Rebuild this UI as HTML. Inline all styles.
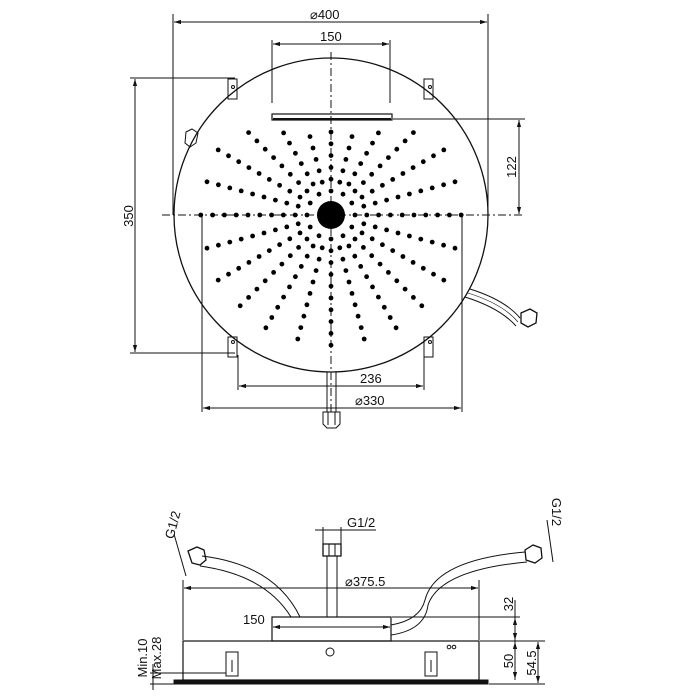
<!DOCTYPE html>
<html><head><meta charset="utf-8"><style>
html,body{margin:0;padding:0;background:#fff;width:700px;height:700px;overflow:hidden}
svg{display:block}
text{font-family:"Liberation Sans",Arial,sans-serif;font-size:13px;fill:#111}
</style></head><body>
<svg id="s" width="700" height="700" viewBox="0 0 700 700" xmlns="http://www.w3.org/2000/svg">
<defs>
<marker id="a" viewBox="0 0 10 10" refX="10" refY="5" markerWidth="7" markerHeight="7" orient="auto-start-reverse"><path d="M0,2 L10,5 L0,8z" fill="#111"/></marker>
</defs>
<g stroke="#111" fill="none" stroke-width="1">
<circle cx="331" cy="215" r="157" stroke-width="1.3"/>
<line x1="162" y1="215" x2="525" y2="215" stroke-dasharray="8,3,2,3"/>
<line x1="331" y1="52" x2="331" y2="412" stroke-dasharray="8,3,2,3"/>
<rect x="272" y="114" width="120" height="6" stroke-width="1.2"/>
<line x1="273" y1="119" x2="391" y2="119" stroke-width="2"/>
<rect x="228" y="79" width="9" height="20"/><rect x="424" y="79" width="9" height="20"/>
<rect x="228" y="337" width="9" height="20"/><rect x="424" y="337" width="9" height="20"/>
<circle cx="233" cy="87" r="1.5"/><circle cx="430" cy="87" r="1.5"/>
<circle cx="233" cy="342" r="1.5"/><circle cx="430" cy="342" r="1.5"/>
<path d="M186,132 l6,-3 l6,4 l-2,10 l-6,4 l-5,-4z"/>
<line x1="327" y1="372" x2="327" y2="412"/><line x1="336" y1="372" x2="336" y2="412"/>
<path d="M323,412 h17 v12 l-4,4 h-9 l-4,-4z"/>
<line x1="328" y1="412" x2="328" y2="425"/><line x1="335" y1="412" x2="335" y2="425"/>
<path d="M470,289 Q505,300 520,318"/><path d="M465,297 Q500,308 516,326"/>
<path d="M468,293 Q503,304 518,322" stroke-width="0.6"/>
<path d="M521,313 l9,-4 l7,4 l-1,10 l-8,4 l-7,-4z" stroke-width="1.3"/>
<line x1="173" y1="14" x2="173" y2="215"/><line x1="488" y1="14" x2="488" y2="215"/>
<line x1="174" y1="22" x2="487" y2="22" marker-start="url(#a)" marker-end="url(#a)"/>
<line x1="272" y1="40" x2="272" y2="103"/><line x1="390" y1="40" x2="390" y2="103"/>
<line x1="273" y1="44" x2="389" y2="44" marker-start="url(#a)" marker-end="url(#a)"/>
<line x1="130" y1="78" x2="235" y2="78"/><line x1="130" y1="353" x2="235" y2="353"/>
<line x1="135" y1="79" x2="135" y2="352" marker-start="url(#a)" marker-end="url(#a)"/>
<line x1="393" y1="119" x2="525" y2="119"/>
<line x1="519" y1="120" x2="519" y2="214" marker-start="url(#a)" marker-end="url(#a)"/>
<line x1="238" y1="355" x2="238" y2="390"/><line x1="424" y1="355" x2="424" y2="390"/>
<line x1="239" y1="386" x2="423" y2="386" marker-start="url(#a)" marker-end="url(#a)"/>
<line x1="202" y1="215" x2="202" y2="412"/><line x1="462" y1="215" x2="462" y2="412"/>
<line x1="203" y1="408" x2="461" y2="408" marker-start="url(#a)" marker-end="url(#a)"/>
</g>
<circle cx="331" cy="215" r="14" fill="#000"/>
<g id="dots" fill="#000"></g>
<text x="310" y="19">⌀400</text>
<text x="320" y="41">150</text>
<text x="360" y="383">236</text>
<text x="355" y="405">⌀330</text>
<text transform="translate(133,216) rotate(-90)" text-anchor="middle">350</text>
<text transform="translate(516,167) rotate(-90)" text-anchor="middle">122</text>

<g stroke="#111" fill="none" stroke-width="1">
<rect x="183" y="641" width="296" height="39" stroke-width="1.2"/>
<rect x="174" y="680" width="314" height="4" fill="#111"/>
<rect x="272" y="617" width="119" height="24" stroke-width="1.2"/>
<line x1="327" y1="556" x2="327" y2="617"/><line x1="337" y1="556" x2="337" y2="617"/>
<path d="M323,544 h18 v12 h-18z" stroke-width="1.3"/><line x1="329" y1="544" x2="329" y2="556"/><line x1="335" y1="544" x2="335" y2="556"/>
<circle cx="330" cy="652" r="4"/>
<circle cx="449" cy="647" r="1.8"/><circle cx="454" cy="647" r="1.8"/>
<rect x="226" y="652" width="12" height="24"/><rect x="425" y="652" width="12" height="24"/>
<line x1="232" y1="660" x2="232" y2="672"/><line x1="431" y1="660" x2="431" y2="672"/>
<path d="M202,556 Q275,565 300,617"/><path d="M200,566 Q265,575 291,617"/>
<path d="M188,551 l9,-4 l7,3 l2,10 l-6,5 l-8,-2z" stroke-width="1.3"/>
<path d="M391,625 Q420,620 425,600 Q435,560 525,552"/><path d="M391,635 Q425,630 428,605 Q440,570 527,562"/>
<path d="M525,550 l8,-5 l8,3 l1,10 l-7,5 l-9,-3z" stroke-width="1.3"/>
<line x1="183" y1="580" x2="183" y2="640"/><line x1="479" y1="580" x2="479" y2="640"/>
<line x1="184" y1="588" x2="478" y2="588" marker-start="url(#a)" marker-end="url(#a)"/>
<line x1="273" y1="627" x2="390" y2="627" marker-start="url(#a)" marker-end="url(#a)"/>
<line x1="392" y1="617" x2="520" y2="617"/><line x1="480" y1="641" x2="545" y2="641"/><line x1="489" y1="684" x2="545" y2="684"/>
<line x1="515" y1="600" x2="515" y2="680" /><line x1="515" y1="618" x2="515" y2="640" marker-start="url(#a)" marker-end="url(#a)"/>
<line x1="515" y1="642" x2="515" y2="679" marker-start="url(#a)" marker-end="url(#a)"/>
<line x1="538" y1="642" x2="538" y2="683" marker-start="url(#a)" marker-end="url(#a)"/>
<line x1="315" y1="530" x2="376" y2="530"/><line x1="323" y1="527" x2="323" y2="544"/><line x1="341" y1="527" x2="341" y2="544"/>
<line x1="150" y1="673" x2="226" y2="673"/><line x1="150" y1="684" x2="174" y2="684"/>
<line x1="153" y1="664" x2="153" y2="690"/>
<line x1="174" y1="534" x2="186" y2="576"/><line x1="547" y1="520" x2="553" y2="562"/>
</g>
<text x="347" y="527">G1/2</text>
<text x="345" y="586">⌀375.5</text>
<text x="243" y="624">150</text>
<text transform="translate(513,604) rotate(-90)" text-anchor="middle">32</text>
<text transform="translate(513,661) rotate(-90)" text-anchor="middle">50</text>
<text transform="translate(536,663) rotate(-90)" text-anchor="middle">54.5</text>
<text transform="translate(147,658) rotate(-90)" text-anchor="middle">Min.10</text>
<text transform="translate(161,658) rotate(-90)" text-anchor="middle">Max.28</text>
<text transform="translate(177,526) rotate(-75)" text-anchor="middle">G1/2</text>
<text transform="translate(552,512) rotate(90)" text-anchor="middle">G1/2</text>
</svg>
<script>
var g=document.getElementById('dots'),cx=331,cy=215,h='';
for(var i=0;i<24;i++){var an=i*Math.PI/12;var st=(i%2)?34:24;
for(var r=st;r<=132;r+=11.8){var x=cx+r*Math.cos(an),y=cy-r*Math.sin(an);
if(y<129)continue; if(Math.abs(x-cx)>131)continue; if(y>347)continue;
if(Math.hypot(x-cx,y-cy)>142)continue;
h+='<circle cx="'+x.toFixed(1)+'" cy="'+y.toFixed(1)+'" r="2.4"/>';}}
g.innerHTML=h;
</script>
</body></html>
